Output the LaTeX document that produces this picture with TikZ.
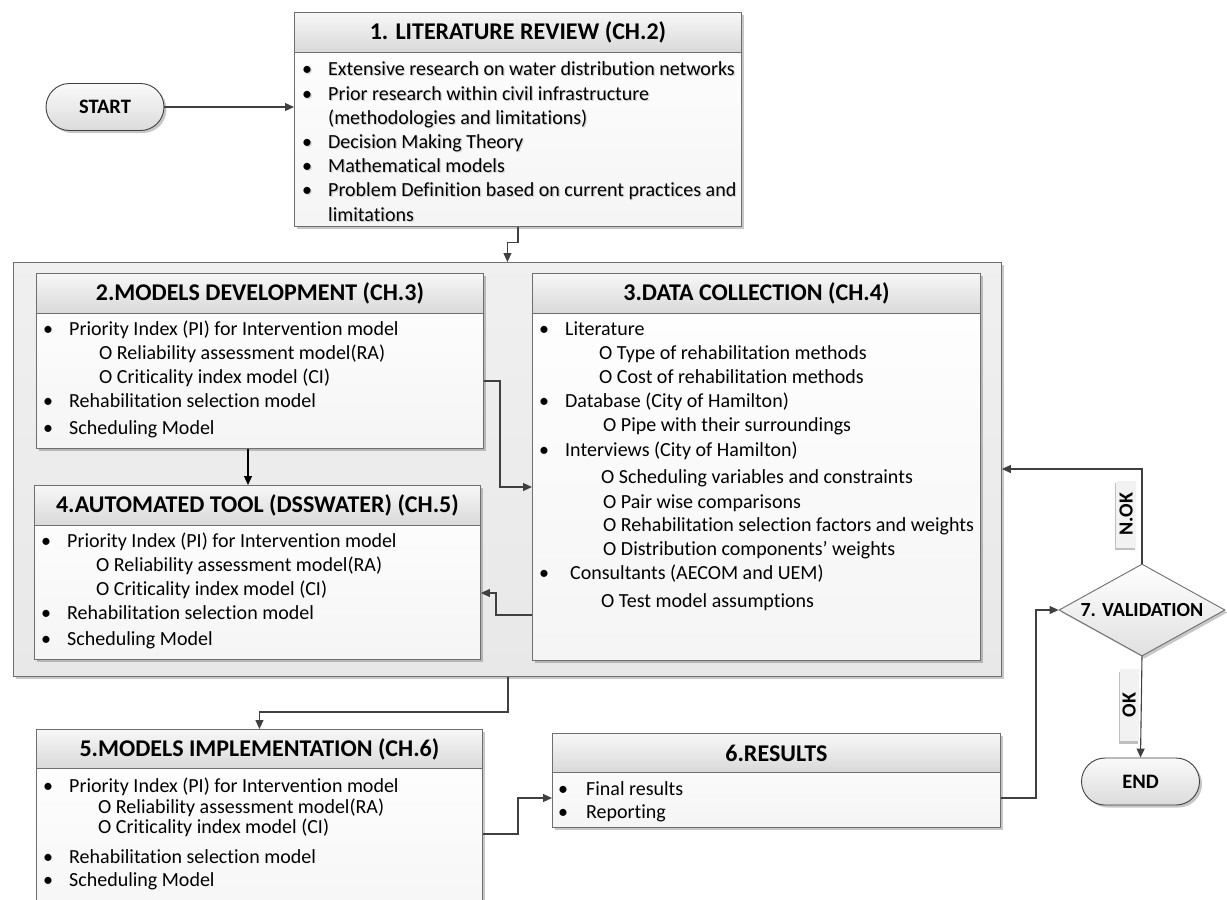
\documentclass[tikz,border=0pt]{standalone}
\usepackage{fontspec}
\setmainfont{Carlito}[Ligatures=NoCommon]
\usetikzlibrary{arrows.meta,shapes.geometric,shapes.misc,shadows,calc}

\definecolor{edge}{HTML}{6E6E6E}
\definecolor{wire}{HTML}{404040}

\newcommand\hdrfont{\fontsize{24}{28}\selectfont\bfseries}
\newcommand\txtfont{\fontsize{20}{24}\selectfont}
\newcommand\bul{\makebox[26pt][l]{•}}
% text with a faint offset shadow behind it
\newcommand\shtext[1]{\rlap{\hspace{1.2pt}\raisebox{-1.8pt}{\textcolor{black!18}{#1}}}#1}

% framed box with a shaded title band: name, left, top, right, bottom, band bottom, title
\newcommand\flowbox[7]{%
  \pgfmathsetmacro\bw{#4-#2}%
  \pgfmathsetmacro\bh{#5-#3}%
  \pgfmathsetmacro\hh{#6-#3}%
  \node[bodybox, anchor=north west, minimum width=\bw pt, minimum height=\bh pt] (#1) at (#2,#3) {};
  \node[headbox, anchor=north west, minimum width=\bw pt, minimum height=\hh pt] (#1-head) at (#2,#3) {#7};
}

\tikzset{
  softshadow/.style={drop shadow={shadow xshift=2.5pt, shadow yshift=-2.5pt, fill=black, opacity=0.22}},
  bodybox/.style={draw=edge, line width=0.9pt, top color=white, bottom color=black!4, inner sep=0pt, softshadow},
  headbox/.style={draw=edge, line width=0.9pt, top color=black!3, bottom color=black!15, inner sep=0pt, font=\hdrfont},
  groupbox/.style={draw=edge, line width=0.9pt, top color=black!6, bottom color=black!9, inner sep=0pt, softshadow},
  pill/.style={rounded rectangle, draw=wire, line width=0.9pt, top color=black!2, bottom color=black!14,
    inner sep=0pt, minimum width=118pt, minimum height=47pt, font=\fontsize{20.5}{24}\selectfont\bfseries, softshadow},
  decision/.style={diamond, draw=edge, line width=0.9pt, top color=white, bottom color=black!12, inner sep=0pt,
    aspect=1.8, minimum width=166pt, minimum height=92pt, font=\fontsize{20}{24}\selectfont\bfseries, softshadow},
  tag/.style={fill=black!5, inner sep=0pt, font=\fontsize{20}{22}\selectfont\bfseries,
    drop shadow={shadow xshift=-1pt, shadow yshift=-2.5pt, fill=black, opacity=0.25}},
  txt/.style={anchor=west, inner sep=0pt, font=\txtfont, text height=12pt, text depth=0pt},
  wire/.style={draw=wire, line width=1.1pt, -{Triangle[length=9pt,width=8pt]}},
}

\begin{document}
\begin{tikzpicture}[x=1pt, y=-1pt]
\path[use as bounding box] (0,0) rectangle (1227,900);
\fill[white] (0,0) rectangle (1227,900);

% start / end terminals
\node[pill] (start) at (105,107) {START};
\node[pill] (end) at (1140.5,781.5) {END};

% step 1
\flowbox{lit}{294}{12}{741}{226}{52}{1. LITERATURE REVIEW (CH.2)}
\foreach \yy/\xx/\itemtext [count=\i] in {
  69/302/{\bul Extensive research on water distribution networks},
  94/302/{\bul Prior research within civil infrastructure},
  118/328/{(methodologies and limitations)},
  142/302/{\bul Decision Making Theory},
  166/302/{\bul Mathematical models},
  190/302/{\bul Problem Definition based on current practices and},
  215/328/{limitations}}
  {\node[txt] (lit-\i) at (\xx,\yy) {\shtext{\itemtext}};}

% group of steps 2, 3 and 4
\node[groupbox, anchor=north west, minimum width=988pt, minimum height=414pt] (outer) at (13,262) {};

\flowbox{dev}{36}{273}{483}{448}{313}{2.MODELS DEVELOPMENT (CH.3)}
\foreach \yy/\xx/\itemtext [count=\i] in {
  329/43/{\bul Priority Index (PI) for Intervention model},
  353/99/{O Reliability assessment model(RA)},
  377/99/{O Criticality index model (CI)},
  401/43/{\bul Rehabilitation selection model},
  428/43/{\bul Scheduling Model}}
  {\node[txt] (dev-\i) at (\xx,\yy) {\itemtext};}

\flowbox{tool}{34}{485}{480}{659}{525}{4.AUTOMATED TOOL (DSSWATER) (CH.5)}
\foreach \yy/\xx/\itemtext [count=\i] in {
  541/41/{\bul Priority Index (PI) for Intervention model},
  565/96/{O Reliability assessment model(RA)},
  589/96/{O Criticality index model (CI)},
  613/41/{\bul Rehabilitation selection model},
  639/41/{\bul Scheduling Model}}
  {\node[txt] (tool-\i) at (\xx,\yy) {\itemtext};}

\flowbox{data}{532}{273}{980}{660}{313}{3.DATA COLLECTION (CH.4)}
\foreach \yy/\xx/\itemtext [count=\i] in {
  329/539/{\bul Literature},
  353/599/{O Type of rehabilitation methods},
  377/599/{O Cost of rehabilitation methods},
  401/539/{\bul Database (City of Hamilton)},
  425/603/{O Pipe with their surroundings},
  450/539/{\bul Interviews (City of Hamilton)},
  477/601/{O Scheduling variables and constraints},
  502/603/{O Pair wise comparisons},
  525/603/{O Rehabilitation selection factors and weights},
  549/603/{O Distribution components’ weights},
  573/539/{\makebox[31pt][l]{•}Consultants (AECOM and UEM)},
  601/601/{O Test model assumptions}}
  {\node[txt] (data-\i) at (\xx,\yy) {\itemtext};}

% step 5 (runs past the lower edge)
\flowbox{impl}{36}{729}{482}{940}{768}{5.MODELS IMPLEMENTATION (CH.6)}
\foreach \yy/\xx/\itemtext [count=\i] in {
  786/43/{\bul Priority Index (PI) for Intervention model},
  807/98/{O Reliability assessment model(RA)},
  827/98/{O Criticality index model (CI)},
  857/43/{\bul Rehabilitation selection model},
  880/43/{\bul Scheduling Model}}
  {\node[txt] (impl-\i) at (\xx,\yy) {\itemtext};}

% step 6
\flowbox{res}{552}{733}{1000}{827}{772}{6.RESULTS}
\foreach \yy/\xx/\itemtext [count=\i] in {
  789/558/{\makebox[28pt][l]{•}Final results},
  812/558/{\makebox[28pt][l]{•}Reporting}}
  {\node[txt] (res-\i) at (\xx,\yy) {\itemtext};}

% step 7
\node[decision] (val) at (1142,610) {7. VALIDATION};

% connectors
\draw[wire] (start.east) -- (lit.west |- start.east);
\draw[wire] (lit.south) -- ++(0,16) -| (outer.north);
\draw[wire] (dev.east |- 0,381) -- (500,381) |- (data.west |- 0,487);
\draw[wire, draw=black, line width=1.3pt] (dev.south -| 248,0) -- (tool.north -| 248,0);
\draw[wire] (data.west |- 0,615) -- (496,615) |- (tool.east |- 0,593);
\draw[wire] (outer.south -| 508,0) -- (508,712) -| (impl.north);
\draw[wire] (impl.east |- 0,834) -- (518,834) |- (res.west |- 0,798);
\draw[wire] (res.east |- 0,798) -- (1036,798) |- (val.west);
\draw[wire] (val.north) |- (outer.east |- 0,469);
\draw[wire] (val.south) -- (end.north);

% branch labels
\node[tag, rotate=90, minimum width=67pt, minimum height=20pt] (nok) at (1126,514) {N.OK};
\node[tag, rotate=90, minimum width=72pt, minimum height=19pt] (ok) at (1129,705) {OK};
\end{tikzpicture}
\end{document}
